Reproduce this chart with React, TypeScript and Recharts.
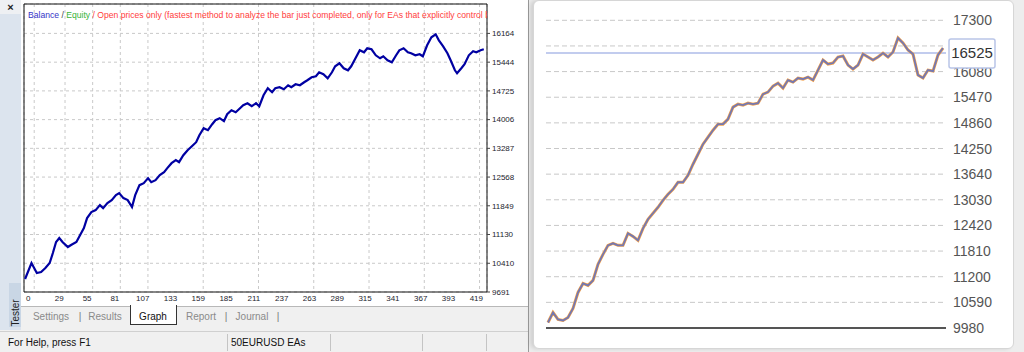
import { LineChart, Line, XAxis, YAxis, CartesianGrid, ReferenceArea, ReferenceLine } from 'recharts'

// left window: MT4 tester balance graph
const leftTrades = [
  -3, 3, 8, 12, 16, 20, 23, 26, 29, 32, 37, 40, 45, 48, 52, 55, 59, 63, 67, 70,
  74, 78, 82, 85, 89, 93, 97, 100, 104, 108, 112, 115, 119, 123, 127, 130, 134, 138, 141, 145,
  149, 153, 157, 160, 164, 168, 172, 175, 179, 183, 186, 190, 194, 198, 201, 205, 209, 213, 216, 220,
  224, 228, 231, 235, 239, 243, 246, 250, 254, 258, 261, 265, 269, 272, 276, 280, 284, 287, 291, 295,
  299, 302, 306, 310, 314, 317, 321, 325, 329, 332, 336, 340, 344, 347, 351, 355, 358, 362, 366, 369,
  373, 377, 381, 384, 388, 392, 395, 399, 401, 405, 408, 412, 416, 419, 423, 426,
]
const leftBalance = [
  10016, 10416, 10166, 10191, 10291, 10416, 10666, 10941, 11041, 10941, 10816, 10866, 10941, 11091, 11291, 11541, 11691, 11741, 11866, 11791,
  11916, 11991, 12116, 12166, 12041, 11991, 11816, 12116, 12366, 12416, 12541, 12441, 12491, 12616, 12691, 12791, 12916, 12991, 12941, 13116,
  13241, 13341, 13441, 13616, 13791, 13741, 13891, 13991, 14041, 13966, 14141, 14241, 14191, 14291, 14366, 14416, 14341, 14416, 14341, 14616,
  14791, 14691, 14791, 14816, 14766, 14866, 14816, 14891, 14866, 14941, 14991, 15066, 15091, 15191, 15141, 15041, 15191, 15341, 15416, 15291,
  15241, 15341, 15541, 15741, 15691, 15791, 15766, 15616, 15541, 15591, 15491, 15441, 15616, 15741, 15791, 15691, 15666, 15616, 15641, 15591,
  15866, 16066, 16141, 15991, 15841, 15666, 15491, 15241, 15166, 15291, 15391, 15616, 15716, 15691, 15741, 15766,
]
const leftXTicks = [0, 29, 55, 81, 107, 133, 159, 185, 211, 237, 263, 289, 315, 341, 367, 393, 419]
const leftYTicks = [9691, 10410, 11130, 11849, 12568, 13287, 14006, 14725, 15444, 16164]

// right card: equity line with price scale
const rightClose = [
  10111, 10349, 10183, 10159, 10230, 10445, 10826, 11040, 10993, 11112,
  11493, 11732, 11946, 11994, 11946, 11946, 12232, 12160, 12065, 12351,
  12566, 12709, 12852, 13018, 13161, 13280, 13447, 13447, 13614, 13876,
  14114, 14353, 14520, 14686, 14829, 14829, 14949, 15235, 15306, 15282,
  15330, 15306, 15330, 15544, 15592, 15735, 15806, 15687, 15878, 15830,
  15926, 15902, 15949, 15878, 16116, 16355, 16259, 16283, 16426, 16450,
  16235, 16140, 16235, 16497, 16426, 16355, 16426, 16521, 16426, 16545,
  16879, 16760, 16593, 16497, 15997, 15926, 16116, 16092, 16474, 16640,
]
const rightYTicks = [9980, 10590, 11200, 11810, 12420, 13030, 13640, 14250, 14860, 15470, 16080, 16690, 17300]
const lastPrice = 16525

const leftData = leftTrades.map((t, i) => ({ trade: t, balance: leftBalance[i] }))
const rightData = rightClose.map((c, i) => ({ n: i, close: c }))

const UI_FONT = '"Liberation Sans", Arial, sans-serif'

// price scale tick; the last price is drawn boxed, and last, so it sits on top
function PriceTick(props: any) {
  const { x, y, payload } = props
  if (payload.value === lastPrice) {
    return (
      <g>
        <rect x={x - 4} y={y - 14} width={46} height={29} fill="#fff" stroke="#b9c5e8" strokeWidth={1.5} rx={2} />
        <text x={x + 19} y={y} dy="0.36em" textAnchor="middle" fontSize={15} fill="#333">{lastPrice}</text>
      </g>
    )
  }
  return (
    <text x={x} y={y} dy="0.36em" textAnchor="start" fontSize={14} fill="#555">{payload.value}</text>
  )
}

function TesterWindow() {
  return (
    <div style={{ position: 'absolute', left: 0, top: 0, width: 529, height: 352, background: '#f0f0f0' }}>
      <div style={{ position: 'absolute', left: 0, top: 0, width: 21, height: 330, background: '#dce4ee' }} />
      <div style={{ position: 'absolute', left: 0, top: 0, width: 21, height: 14, background: '#eef0f3', fontSize: 11, fontWeight: 'bold', textAlign: 'center', lineHeight: '14px', color: '#222' }}>×</div>
      <div style={{ position: 'absolute', left: 9, top: 283, width: 12, height: 44, background: '#c9d6e5' }} />
      <div style={{ position: 'absolute', left: 15, top: 313, transform: 'translate(-50%, -50%) rotate(-90deg)', fontSize: 10, color: '#222', whiteSpace: 'nowrap' }}>Tester</div>
      <div style={{ position: 'absolute', left: 21, top: 0, width: 507, height: 306, background: '#fff' }} />

      <div style={{ position: 'absolute', left: 0, top: 0 }}>
        <LineChart width={528} height={305} data={leftData} margin={{ top: 4, right: 0, left: 24, bottom: 0 }}>
          <XAxis xAxisId="g" type="number" dataKey="trade" domain={[-9.6, 423.4]} ticks={leftXTicks} hide />
          <CartesianGrid xAxisId="g" stroke="#c9c9c9" strokeDasharray="3 3" />
          <XAxis
            type="number"
            dataKey="trade"
            domain={[-4, 429]}
            ticks={leftXTicks}
            interval={0}
            height={13}
            axisLine={false}
            tickLine={false}
            tickSize={2}
            tickMargin={1}
            tick={{ fontSize: 8, fill: '#1c1c2e' }}
          />
          <YAxis
            orientation="right"
            type="number"
            domain={[9691, 16900]}
            ticks={leftYTicks}
            interval={0}
            width={41}
            axisLine={false}
            tickLine={{ stroke: '#444' }}
            tickSize={3}
            tickMargin={2}
            tick={{ fontSize: 8, fill: '#1c1c2e' }}
          />
          <ReferenceArea x1={-4} x2={429} y1={9691} y2={16900} fill="none" stroke="#111" strokeWidth={1} ifOverflow="visible" />
          <Line type="linear" dataKey="balance" stroke="#0000a2" strokeWidth={2.2} dot={false} isAnimationActive={false} />
        </LineChart>
      </div>

      <div style={{ position: 'absolute', left: 28, top: 10, width: 459, overflow: 'hidden', whiteSpace: 'nowrap', fontSize: 8.6, lineHeight: '10px' }}>
        <span style={{ color: '#3434c8' }}>Balance</span>
        <span style={{ color: '#444' }}> / </span>
        <span style={{ color: '#36b336' }}>Equity</span>
        <span style={{ color: '#ff3c3c' }}> / Open prices only (fastest method to analyze the bar just completed, only for EAs that explicitly control bar opening)</span>
      </div>

      <div style={{ position: 'absolute', left: 21, top: 306, width: 507, height: 22, background: '#f0f0f0', borderTop: '1px solid #b8b8b8' }} />
      <div style={{ position: 'absolute', left: 130, top: 305, width: 45, height: 19, background: '#fff', borderLeft: '1px solid #333', borderRight: '1px solid #333', borderBottom: '1px solid #333' }} />
      {[
        { t: 'Settings', x: 51, c: '#8a8a8a' },
        { t: '|', x: 80, c: '#777' },
        { t: 'Results', x: 105, c: '#8a8a8a' },
        { t: 'Graph', x: 153, c: '#111' },
        { t: 'Report', x: 201, c: '#8a8a8a' },
        { t: '|', x: 226, c: '#777' },
        { t: 'Journal', x: 252, c: '#8a8a8a' },
        { t: '|', x: 278, c: '#777' },
      ].map((tab, i) => (
        <div key={i} style={{ position: 'absolute', left: tab.x, top: 316, transform: 'translate(-50%, -50%)', fontSize: 10, color: tab.c, whiteSpace: 'nowrap' }}>{tab.t}</div>
      ))}

      <div style={{ position: 'absolute', left: 0, top: 331, width: 528, height: 21, background: '#f0f0f0', borderTop: '1px solid #d0d0d0' }} />
      <div style={{ position: 'absolute', left: 8, top: 342, transform: 'translateY(-50%)', fontSize: 10, color: '#111', whiteSpace: 'nowrap' }}>For Help, press F1</div>
      <div style={{ position: 'absolute', left: 231, top: 342, transform: 'translateY(-50%)', fontSize: 10, color: '#111', whiteSpace: 'nowrap' }}>50EURUSD EAs</div>
      {[227, 330, 422, 486].map(x => (
        <div key={x} style={{ position: 'absolute', left: x, top: 334, width: 1, height: 17, background: '#c4c4c4' }} />
      ))}
      <div style={{ position: 'absolute', left: 528, top: 0, width: 1, height: 352, background: '#9a9a9a' }} />
    </div>
  )
}

function EquityCard() {
  return (
    <>
      <div style={{ position: 'absolute', left: 533, top: 0, width: 479, height: 347, background: '#fff', border: '1px solid #d6d6d6', borderRadius: 6, boxShadow: '-3px 0 4px rgba(0,0,0,0.12)' }} />
      <div style={{ position: 'absolute', left: 533, top: 0 }}>
        <LineChart width={480} height={340} data={rightData} margin={{ top: 14, right: 7, left: 13, bottom: 10 }}>
          <CartesianGrid vertical={false} horizontalValues={rightYTicks} stroke="#c8c8c8" strokeDasharray="5 3" />
          <XAxis dataKey="n" tick={false} height={2} axisLine={{ stroke: '#555', strokeWidth: 2 }} tickLine={false} padding={{ left: 2, right: 3 }} />
          <YAxis yAxisId="l" type="number" domain={[9980, 17450]} width={0} tick={false} tickLine={false} axisLine={{ stroke: '#555', strokeWidth: 2 }} />
          <ReferenceLine y={lastPrice} stroke="#aebbe8" strokeWidth={1.5} />
          <Line type="linear" dataKey="close" stroke="#f4a14a" strokeWidth={3} dot={false} isAnimationActive={false} />
          <Line type="linear" dataKey="close" stroke="#7378b2" strokeWidth={1.8} dot={false} isAnimationActive={false} />
          <YAxis
            orientation="right"
            type="number"
            domain={[9980, 17450]}
            ticks={[...rightYTicks, lastPrice]}
            interval={0}
            width={60}
            axisLine={false}
            tickLine={false}
            tickSize={0}
            tickMargin={7}
            tick={<PriceTick />}
          />
        </LineChart>
      </div>
    </>
  )
}

export default function App() {
  return (
    <div style={{ position: 'absolute', left: 0, top: 0, width: 1024, height: 352, overflow: 'hidden', background: '#ededed', fontFamily: UI_FONT }}>
      <TesterWindow />
      <EquityCard />
    </div>
  )
}
